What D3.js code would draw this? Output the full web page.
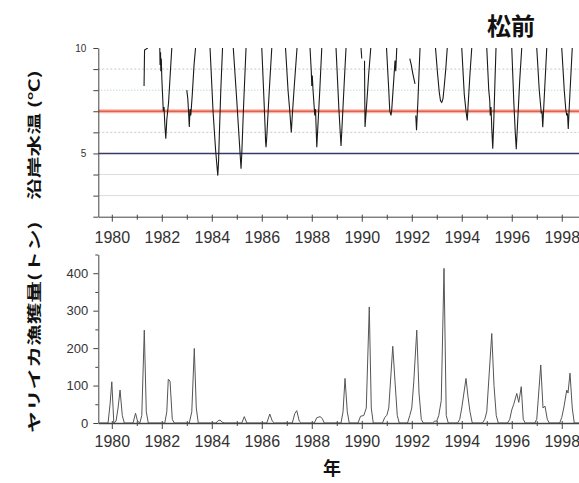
<!DOCTYPE html>
<html>
<head>
<meta charset="utf-8">
<script src="https://cdn.jsdelivr.net/npm/d3@7"></script>
<style>
    body { margin: 0; background: #fff; }
    svg { display: block; font-family: "Liberation Sans", Arial, sans-serif; }
    .jp { font-family: "Noto Sans CJK JP", sans-serif; font-weight: bold; fill: #111; }
</style>
</head>
<body>
<div id="chart"></div>
<script>
// tick values and labels
var yearTicks = [1980, 1981, 1982, 1983, 1984, 1985, 1986, 1987, 1988, 1989,
    1990, 1991, 1992, 1993, 1994, 1995, 1996, 1997, 1998];
var yearLabels = [1980, 1982, 1984, 1986, 1988, 1990, 1992, 1994, 1996, 1998];
var tempTicks = [2, 3, 4, 5, 6, 7, 8, 9, 10];
var tempLabels = [10, 5];
var tempGrid = [9, 8, 6, 4, 3];
var warmTemp = 7;
var coldTemp = 5;
var catchTicks = [0, 50, 100, 150, 200, 250, 300, 350, 400, 450];
var catchLabels = [0, 100, 200, 300, 400];

// coastal water temperature (year, degC), one piece per winter, gaps between
var tempSegments = [
    [[1981.29, 8.2], [1981.30, 9.0], [1981.31, 9.9], [1981.44, 10]],
    [[1981.92, 10], [1981.93, 9.2], [1981.95, 9.8], [1981.96, 8.9], [1981.98, 9.5], [1982.0, 8.6],
        [1982.06, 7.0], [1982.09, 7.2], [1982.12, 6.4], [1982.16, 5.7], [1982.2, 6.6],
        [1982.27, 7.4], [1982.33, 8.6], [1982.40, 10]],
    [[1983.0, 8.0], [1983.04, 7.6], [1983.07, 7.0], [1983.1, 6.25], [1983.13, 7.1],
        [1983.16, 6.8], [1983.22, 7.8], [1983.29, 9.2], [1983.35, 10]],
    [[1983.93, 10], [1984.05, 7.0], [1984.15, 5.2], [1984.2, 4.5], [1984.24, 3.95],
        [1984.27, 4.6], [1984.3, 5.8], [1984.36, 8.0], [1984.43, 10]],
    [[1984.86, 10], [1985.0, 7.5], [1985.1, 5.6], [1985.17, 4.28], [1985.2, 5.0],
        [1985.27, 7.2], [1985.37, 10]],
    [[1986.0, 10], [1986.1, 7.2], [1986.14, 6.0], [1986.15, 5.6], [1986.17, 5.3],
        [1986.2, 5.8], [1986.3, 8.0], [1986.4, 10]],
    [[1986.95, 10], [1987.05, 8.0], [1987.12, 7.0], [1987.18, 6.0], [1987.22, 6.8],
        [1987.3, 8.2], [1987.41, 10]],
    [[1987.93, 10], [1987.98, 8.9], [1988.0, 8.2], [1988.02, 8.7], [1988.05, 8.0],
        [1988.12, 6.8], [1988.15, 7.1], [1988.2, 5.3], [1988.24, 6.2], [1988.32, 8.0], [1988.4, 10]],
    [[1988.97, 10], [1989.08, 7.2], [1989.17, 5.35], [1989.22, 6.5], [1989.3, 8.4], [1989.37, 10]],
    [[1989.97, 10], [1990.0, 9.5]],
    [[1990.11, 9.4], [1990.12, 7.6], [1990.125, 7.0], [1990.13, 6.25], [1990.2, 7.4],
        [1990.28, 8.8], [1990.36, 10]],
    [[1990.99, 10], [1991.08, 8.0], [1991.12, 7.0], [1991.15, 6.9], [1991.17, 6.8],
        [1991.2, 7.1], [1991.28, 8.5], [1991.33, 9.4], [1991.36, 8.9], [1991.4, 10]],
    [[1991.92, 9.5], [1991.98, 9.2], [1992.04, 8.8], [1992.13, 8.3]],
    [[1992.16, 6.8], [1992.19, 6.1], [1992.25, 7.6], [1992.33, 10]],
    [[1992.95, 10], [1993.03, 8.8], [1993.1, 7.9], [1993.15, 7.5], [1993.2, 7.42],
        [1993.25, 7.6], [1993.3, 8.2], [1993.36, 9.0], [1993.42, 10]],
    [[1994.0, 10], [1994.1, 7.8], [1994.17, 7.0], [1994.22, 6.56], [1994.26, 7.4],
        [1994.33, 8.8], [1994.4, 10]],
    [[1995.0, 10], [1995.08, 8.0], [1995.12, 7.5], [1995.14, 6.8], [1995.17, 7.2],
        [1995.2, 6.2], [1995.24, 5.22], [1995.28, 6.5], [1995.33, 8.5], [1995.37, 10]],
    [[1996.0, 10], [1996.08, 7.5], [1996.14, 6.0], [1996.18, 5.2], [1996.24, 6.6],
        [1996.32, 8.5], [1996.4, 10]],
    [[1997.0, 10], [1997.1, 8.0], [1997.16, 7.2], [1997.18, 6.9], [1997.21, 7.0],
        [1997.24, 6.24], [1997.28, 7.2], [1997.34, 8.6], [1997.4, 10]],
    [[1998.0, 10], [1998.1, 8.0], [1998.16, 7.1], [1998.2, 6.8], [1998.23, 6.9],
        [1998.26, 6.16], [1998.3, 7.2], [1998.36, 8.6], [1998.42, 10]]
];

// ヤリイカ catch (year, tons)
var catchData = [
    [1979.5, 0], [1979.85, 0], [1979.93, 50], [1980.0, 110], [1980.08, 0],
    [1980.17, 5], [1980.25, 40], [1980.33, 88], [1980.42, 20], [1980.5, 0],
    [1980.85, 0], [1980.95, 26], [1981.03, 5], [1981.12, 0], [1981.2, 20],
    [1981.3, 248], [1981.38, 30], [1981.46, 0],
    [1982.12, 0], [1982.2, 30], [1982.26, 117], [1982.33, 112], [1982.42, 10], [1982.5, 0],
    [1983.1, 0], [1983.2, 30], [1983.3, 199], [1983.38, 40], [1983.46, 0],
    [1984.17, 0], [1984.25, 6], [1984.33, 8], [1984.42, 2], [1984.5, 0],
    [1985.2, 0], [1985.3, 17], [1985.4, 0],
    [1986.2, 0], [1986.32, 24], [1986.42, 5], [1986.5, 0],
    [1987.22, 0], [1987.32, 25], [1987.4, 33], [1987.5, 5], [1987.58, 0],
    [1988.1, 0], [1988.2, 14], [1988.33, 17], [1988.42, 12], [1988.5, 0],
    [1989.17, 0], [1989.25, 30], [1989.33, 119], [1989.42, 30], [1989.5, 0],
    [1989.85, 0], [1989.95, 18], [1990.08, 20], [1990.18, 40], [1990.3, 310],
    [1990.38, 40], [1990.46, 0],
    [1990.83, 0], [1990.92, 15], [1991.0, 20], [1991.08, 40], [1991.24, 205],
    [1991.33, 110], [1991.42, 20], [1991.5, 0],
    [1991.83, 0], [1991.92, 20], [1992.0, 40], [1992.08, 110], [1992.2, 248],
    [1992.29, 80], [1992.38, 10], [1992.46, 0],
    [1992.83, 0], [1992.92, 5], [1993.0, 5], [1993.08, 20], [1993.18, 60],
    [1993.29, 413], [1993.38, 20], [1993.46, 0],
    [1993.83, 0], [1993.92, 10], [1994.0, 40], [1994.17, 119], [1994.25, 70],
    [1994.33, 30], [1994.42, 0],
    [1994.83, 0], [1994.92, 10], [1995.0, 30], [1995.2, 239], [1995.29, 100],
    [1995.38, 20], [1995.46, 0],
    [1995.83, 0], [1995.92, 10], [1996.0, 35], [1996.08, 50], [1996.2, 79],
    [1996.28, 55], [1996.38, 97], [1996.46, 10], [1996.54, 0],
    [1996.92, 0], [1997.0, 10], [1997.16, 155], [1997.25, 40], [1997.33, 45],
    [1997.42, 10], [1997.5, 0],
    [1997.92, 0], [1998.0, 15], [1998.08, 40], [1998.2, 88], [1998.25, 80],
    [1998.33, 133], [1998.42, 40], [1998.5, 0], [1998.8, 0]
];

var width = 579, height = 483;

var svg = d3.select('#chart').append('svg')
    .attr('width', width)
    .attr('height', height);

// shared time axis
var x = d3.scaleLinear().domain([1979.46, 1998.73]).range([98.3, 580]);
var yT = d3.scaleLinear().domain([2, 10]).range([216.7, 48]);
var yC = d3.scaleLinear().domain([0, 450]).range([423, 254.5]);

// ---- top panel: water temperature ----
var gridStyle = {
    9: { color: '#c8c8c8', dash: '2,2' },
    8: { color: '#a9cfa9', dash: '1,2' },
    6: { color: '#c8c8c8', dash: '2,2' },
    4: { color: '#dcdcdc', dash: null },
    3: { color: '#dcdcdc', dash: null }
};

svg.append('g').selectAll('line')
    .data(tempGrid)
    .enter().append('line')
    .attr('x1', x.range()[0])
    .attr('x2', x.range()[1])
    .attr('y1', function (d) { return yT(d); })
    .attr('y2', function (d) { return yT(d); })
    .attr('stroke', function (d) { return gridStyle[d].color; })
    .attr('stroke-dasharray', function (d) { return gridStyle[d].dash; });

svg.append('line')
    .attr('x1', x.range()[0]).attr('x2', x.range()[1])
    .attr('y1', yT(warmTemp)).attr('y2', yT(warmTemp))
    .attr('stroke', '#f4b8ae').attr('stroke-width', 4);
svg.append('line')
    .attr('x1', x.range()[0]).attr('x2', x.range()[1])
    .attr('y1', yT(warmTemp)).attr('y2', yT(warmTemp))
    .attr('stroke', '#e8604c').attr('stroke-width', 1.5);
svg.append('line')
    .attr('x1', x.range()[0]).attr('x2', x.range()[1])
    .attr('y1', yT(coldTemp)).attr('y2', yT(coldTemp))
    .attr('stroke', '#3a3a6a').attr('stroke-width', 1.6);

svg.append('clipPath').attr('id', 'clipT')
    .append('rect')
    .attr('x', x.range()[0]).attr('y', yT(10))
    .attr('width', x.range()[1] - x.range()[0])
    .attr('height', yT(2) - yT(10));

var tempLine = d3.line()
    .x(function (d) { return x(d[0]); })
    .y(function (d) { return yT(d[1]); });

svg.append('g')
    .attr('clip-path', 'url(#clipT)')
    .selectAll('path')
    .data(tempSegments)
    .enter().append('path')
    .attr('d', tempLine)
    .attr('fill', 'none')
    .attr('stroke', '#1a1a1a')
    .attr('stroke-width', 1.1);

function styleAxis(g) {
    g.select('.domain').attr('stroke', '#444');
    g.selectAll('.tick line').attr('stroke', '#444');
    g.selectAll('.tick text').attr('fill', '#333');
}

var xAxisTop = svg.append('g')
    .attr('transform', 'translate(0,' + yT(2) + ')')
    .call(d3.axisBottom(x)
        .tickValues(yearTicks)
        .tickSize(5)
        .tickSizeOuter(0)
        .tickPadding(10)
        .tickFormat(function (d) { return yearLabels.indexOf(d) >= 0 ? d : ''; }))
    .call(styleAxis);
xAxisTop.selectAll('.tick text').style('font-size', '16px');
xAxisTop.selectAll('.tick line').attr('y1', -2)
    .attr('y2', function (d) { return yearLabels.indexOf(d) >= 0 ? 5 : 3; });

var yAxisTop = svg.append('g')
    .attr('transform', 'translate(' + x.range()[0] + ',0)')
    .call(d3.axisLeft(yT)
        .tickValues(tempTicks)
        .tickSize(5)
        .tickSizeOuter(0)
        .tickPadding(7)
        .tickFormat(function (d) { return tempLabels.indexOf(d) >= 0 ? d : ''; }))
    .call(styleAxis);
yAxisTop.selectAll('.tick text').style('font-size', '10px');

// ---- bottom panel: catch ----
var catchLine = d3.line()
    .x(function (d) { return x(d[0]); })
    .y(function (d) { return yC(d[1]); });

svg.append('path')
    .datum(catchData)
    .attr('d', catchLine)
    .attr('fill', 'none')
    .attr('stroke', '#555')
    .attr('stroke-width', 1);

var xAxisBottom = svg.append('g')
    .attr('transform', 'translate(0,' + yC(0) + ')')
    .call(d3.axisBottom(x)
        .tickValues(yearTicks)
        .tickSize(5)
        .tickSizeOuter(0)
        .tickPadding(8)
        .tickFormat(function (d) { return yearLabels.indexOf(d) >= 0 ? d : ''; }))
    .call(styleAxis);
xAxisBottom.select('.domain').attr('stroke-width', 1.4);
xAxisBottom.selectAll('.tick text').style('font-size', '16px');
xAxisBottom.selectAll('.tick line').attr('y1', -2)
    .attr('y2', function (d) { return yearLabels.indexOf(d) >= 0 ? 6 : 3; });

var yAxisBottom = svg.append('g')
    .attr('transform', 'translate(' + x.range()[0] + ',0)')
    .call(d3.axisLeft(yC)
        .tickValues(catchTicks)
        .tickSize(5)
        .tickSizeOuter(0)
        .tickPadding(5)
        .tickFormat(function (d) { return catchLabels.indexOf(d) >= 0 ? d : ''; }))
    .call(styleAxis);
yAxisBottom.selectAll('.tick text').style('font-size', '13px');
yAxisBottom.selectAll('.tick line')
    .attr('x2', function (d) { return catchLabels.indexOf(d) >= 0 ? -5 : -3; });

// ---- titles ----
svg.append('text')
    .attr('class', 'jp')
    .attr('x', 511).attr('y', 35)
    .attr('text-anchor', 'middle')
    .style('font-size', '24px')
    .text('松前');

svg.append('text')
    .attr('class', 'jp')
    .attr('transform', 'translate(33,135) rotate(-90) scale(1.55,1)')
    .attr('text-anchor', 'middle')
    .attr('dominant-baseline', 'central')
    .style('font-size', '14px')
    .text('沿岸水温 (℃)');

svg.append('text')
    .attr('class', 'jp')
    .attr('transform', 'translate(33,327) rotate(-90) scale(1.55,1)')
    .attr('text-anchor', 'middle')
    .attr('dominant-baseline', 'central')
    .style('font-size', '14px')
    .text('ヤリイカ漁獲量(トン)');

svg.append('text')
    .attr('class', 'jp')
    .attr('x', 332).attr('y', 475)
    .attr('text-anchor', 'middle')
    .style('font-size', '18px')
    .text('年');
</script>
</body>
</html>
